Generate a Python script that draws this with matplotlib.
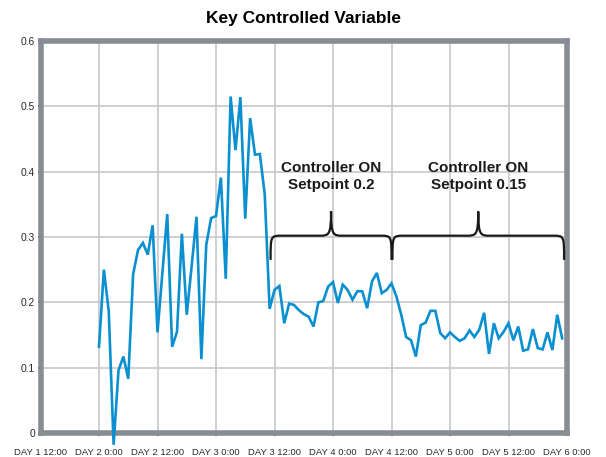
import numpy as np
import matplotlib
matplotlib.use("Agg")
import matplotlib.pyplot as plt
from matplotlib.path import Path
from matplotlib.patches import PathPatch

# ---- data ----
tick_hours = [-12, 0, 12, 24, 36, 48, 60, 72, 84, 96]
tick_labels = ["DAY 1 12:00", "DAY 2 0:00", "DAY 2 12:00", "DAY 3 0:00", "DAY 3 12:00",
               "DAY 4 0:00", "DAY 4 12:00", "DAY 5 0:00", "DAY 5 12:00", "DAY 6 0:00"]
y_ticks = [0, 0.1, 0.2, 0.3, 0.4, 0.5, 0.6]
y_tick_labels = ["0", "0.1", "0.2", "0.3", "0.4", "0.5", "0.6"]

values = [0.132, 0.250, 0.186, -0.018, 0.096, 0.117, 0.083, 0.243, 0.280, 0.291,
          0.273, 0.318, 0.154, 0.245, 0.335, 0.132, 0.155, 0.305, 0.181, 0.255,
          0.331, 0.113, 0.288, 0.329, 0.332, 0.391, 0.236, 0.515, 0.433, 0.514,
          0.328, 0.482, 0.426, 0.427, 0.365, 0.190, 0.219, 0.225, 0.168, 0.198,
          0.196, 0.188, 0.182, 0.178, 0.163, 0.200, 0.202, 0.224, 0.231, 0.199,
          0.227, 0.219, 0.204, 0.217, 0.217, 0.191, 0.232, 0.245, 0.214, 0.219,
          0.229, 0.209, 0.181, 0.147, 0.142, 0.117, 0.165, 0.169, 0.187, 0.187,
          0.153, 0.145, 0.154, 0.147, 0.141, 0.145, 0.157, 0.147, 0.158, 0.184,
          0.121, 0.168, 0.145, 0.155, 0.168, 0.142, 0.163, 0.126, 0.128, 0.159,
          0.130, 0.128, 0.154, 0.127, 0.181, 0.145]
hours = np.arange(len(values))  # hourly samples starting DAY 2 0:00

brace_spans = [(35.2, 60.0), (60.2, 95.4)]
brace_texts = ["Controller ON\nSetpoint 0.2", "Controller ON\nSetpoint 0.15"]

# ---- figure ----
W, H = 606, 457
fig = plt.figure(figsize=(W / 100, H / 100), dpi=100)
ax = fig.add_axes([40.5 / W, (H - 433) / H, (567 - 40.5) / W, (433 - 41) / H])

line_color = "#0a8fd0"
ax.plot(hours, values, color=line_color, lw=1.9, clip_on=False, zorder=4,
        solid_joinstyle="miter")

ax.set_xlim(-12, 96)
ax.set_ylim(0, 0.6)
ax.set_xticks(tick_hours)
ax.set_xticklabels(tick_labels, fontsize=6.8, family="Liberation Sans", color="#2a2a2a")
ax.set_yticks(y_ticks)
ax.set_yticklabels(y_tick_labels, fontsize=7.4, family="Liberation Sans", color="#2a2a2a")

ax.tick_params(axis="x", length=2.5, width=1.2, pad=8.0, color="black")
ax.tick_params(axis="y", length=2.5, width=1.2, pad=1.5, color="black")

ax.grid(True, color="#c6c8cc", lw=1.2)
ax.set_axisbelow(True)
for s in ax.spines.values():
    s.set_color("#878d93")
    s.set_linewidth(4.0)

# title
fig.text(303.5 / W, 1 - 18 / H, "Key Controlled Variable", ha="center", va="center",
         fontsize=12.5, fontweight="bold", family=["Liberation Sans", "DejaVu Sans"])

# braces
y_end, y_h, y_tip = 0.265, 0.302, 0.339
dxe, dxm = 2.3, 2.4


def brace(x0, x1):
    xm = (x0 + x1) / 2
    verts = [
        (x0, y_end), (x0, y_h), (x0, y_h), (x0 + dxe, y_h),
        (xm - dxm, y_h),
        (xm - dxm * 0.2, y_h), (xm, y_h), (xm, y_tip),
        (x1, y_end), (x1, y_h), (x1, y_h), (x1 - dxe, y_h),
        (xm + dxm, y_h),
        (xm + dxm * 0.2, y_h), (xm, y_h), (xm, y_tip),
    ]
    codes = [Path.MOVETO, Path.CURVE4, Path.CURVE4, Path.CURVE4,
             Path.LINETO,
             Path.CURVE4, Path.CURVE4, Path.CURVE4,
             Path.MOVETO, Path.CURVE4, Path.CURVE4, Path.CURVE4,
             Path.LINETO,
             Path.CURVE4, Path.CURVE4, Path.CURVE4]
    p = PathPatch(Path(verts, codes), facecolor="none", edgecolor="#1a1a1a",
                  lw=1.6, zorder=5, capstyle="butt")
    ax.add_patch(p)
    return xm


for (x0, x1), txt in zip(brace_spans, brace_texts):
    xm = brace(x0, x1)
    ax.text(xm, 0.393, txt, ha="center", va="center", fontsize=11, fontweight="bold",
            family=["Liberation Sans", "DejaVu Sans"], color="#1a1a1a",
            linespacing=1.25, zorder=6)

fig.savefig("out.png", dpi=100)
